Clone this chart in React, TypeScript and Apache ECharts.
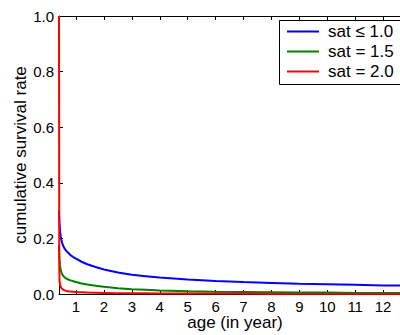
import React, { useEffect, useRef } from "react";
import * as echarts from "echarts";

const ages = [0.39, 0.4, 0.41, 0.43, 0.45, 0.48, 0.52, 0.57, 0.63, 0.7, 0.8, 0.9, 1.0, 1.2, 1.4, 1.7, 2.0, 2.5, 3, 3.5, 4, 5, 6, 7, 8, 9, 10, 11, 12, 13];
const satLow = [0.3, 0.27, 0.25, 0.225, 0.208, 0.192, 0.178, 0.167, 0.158, 0.15, 0.14, 0.133, 0.127, 0.116, 0.107, 0.097, 0.088, 0.077, 0.069, 0.064, 0.059, 0.052, 0.047, 0.043, 0.04, 0.037, 0.035, 0.033, 0.031, 0.03];
const sat15 = [0.175, 0.14, 0.12, 0.1, 0.087, 0.077, 0.068, 0.062, 0.057, 0.053, 0.049, 0.046, 0.043, 0.038, 0.034, 0.03, 0.026, 0.021, 0.017, 0.015, 0.013, 0.01, 0.008, 0.007, 0.006, 0.005, 0.005, 0.004, 0.004, 0.003];
const sat20 = [1.0, 0.1, 0.045, 0.032, 0.026, 0.021, 0.017, 0.014, 0.012, 0.01, 0.009, 0.008, 0.007, 0.006, 0.005, 0.0045, 0.004, 0.003, 0.003, 0.0025, 0.002, 0.002, 0.0015, 0.0015, 0.001, 0.001, 0.001, 0.001, 0.001, 0.001];
const seriesNames = ["sat \u2264 1.0", "sat = 1.5", "sat = 2.0"];
const seriesColors = ["#0000ff", "#008000", "#ff0000"];
const xTicks = [1, 2, 3, 4, 5, 6, 7, 8, 9, 10, 11, 12];

const FONT = "Liberation Sans, Arial, sans-serif";

export default function App() {
  const ref = useRef<HTMLDivElement>(null);
  useEffect(() => {
    if (!ref.current) return;
    const chart = echarts.init(ref.current, null, { renderer: "svg" });
    const values = [satLow, sat15, sat20];
    const tickCommon = { show: true, inside: true, length: 4, lineStyle: { color: "#000", width: 1 } };
    chart.setOption({
      animation: false,
      backgroundColor: "#fff",
      textStyle: { fontFamily: FONT },
      grid: { left: 59, top: 16, bottom: 41, right: -11, outerBoundsMode: "none" },
      graphic: [
        {
          type: "rect",
          z: 3,
          silent: true,
          shape: { x: 279.5, y: 20.5, width: 140, height: 64 },
          style: { fill: "#fff", stroke: "#000", lineWidth: 1 },
        },
      ],
      legend: {
        orient: "vertical",
        left: 279,
        top: 21,
        z: 5,
        padding: [2, 20, 5, 8],
        itemWidth: 32,
        itemHeight: 14,
        itemGap: 3,
        borderWidth: 0,
        textStyle: { fontSize: 17, lineHeight: 14, color: "#000", fontFamily: FONT, padding: [0, 0, 0, 4] },
        data: seriesNames.map((n) => ({ name: n, icon: "path://M0,6 L32,6 L32,8 L0,8 Z" })),
      },
      xAxis: [
        {
          type: "value",
          min: 0.39,
          max: 13,
          position: "bottom",
          name: "age (in year)",
          nameLocation: "middle",
          nameGap: 20,
          nameMoveOverlap: false,
          nameTextStyle: { fontSize: 17, lineHeight: 17, color: "#000", fontFamily: FONT },
          axisLine: { show: true, onZero: false, lineStyle: { color: "#000", width: 1 } },
          axisTick: { ...tickCommon, customValues: xTicks },
          axisLabel: { show: true, customValues: xTicks, fontSize: 15, lineHeight: 14, color: "#000", margin: 5, fontFamily: FONT },
          splitLine: { show: false },
        },
        {
          type: "value",
          min: 0.39,
          max: 13,
          position: "top",
          axisLine: { show: true, onZero: false, lineStyle: { color: "#000", width: 1 } },
          axisTick: { ...tickCommon, customValues: xTicks },
          axisLabel: { show: false },
          splitLine: { show: false },
        },
      ],
      yAxis: [
        {
          type: "value",
          min: 0,
          max: 1,
          interval: 0.2,
          position: "left",
          name: "cumulative survival rate",
          nameLocation: "middle",
          nameGap: 30,
          nameMoveOverlap: false,
          nameTextStyle: { fontSize: 17, color: "#000", fontFamily: FONT },
          axisLine: { show: true, onZero: false, lineStyle: { color: "#000", width: 1 } },
          axisTick: tickCommon,
          axisLabel: { fontSize: 15, color: "#000", margin: 5, fontFamily: FONT, formatter: (v: number) => v.toFixed(1) },
          splitLine: { show: false },
        },
        {
          type: "value",
          min: 0,
          max: 1,
          interval: 0.2,
          position: "right",
          axisLine: { show: true, onZero: false, lineStyle: { color: "#000", width: 1 } },
          axisTick: tickCommon,
          axisLabel: { show: false },
          splitLine: { show: false },
        },
      ],
      series: values.map((vals, i) => ({
        type: "line",
        name: seriesNames[i],
        data: ages.map((a, j) => [a, vals[j]]),
        symbol: "none",
        clip: false,
        color: seriesColors[i],
        lineStyle: { color: seriesColors[i], width: 2 },
      })),
    });
    return () => chart.dispose();
  }, []);
  return <div ref={ref} style={{ position: "fixed", left: 0, top: 0, width: 400, height: 335 }} />;
}
